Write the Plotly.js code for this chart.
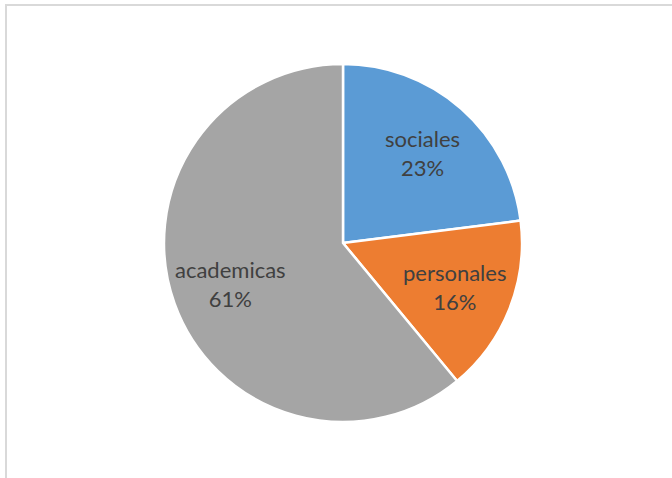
<!DOCTYPE html>
<html>
<head>
<meta charset="utf-8">
<script src="https://cdn.plot.ly/plotly-3.0.1.min.js"></script>
<style>
  html, body { margin: 0; padding: 0; background: #ffffff; overflow: hidden; }
  #frame { position: absolute; left: 5px; top: 4px; width: 720px; height: 520px;
           border-left: 2px solid #d9d9d9; border-top: 2px solid #d9d9d9; }
  #chart { position: absolute; left: 0; top: 0; width: 672px; height: 478px; }
</style>
</head>
<body>
<div id="frame"></div>
<div id="chart"></div>
<script>
const categories = ["sociales", "personales", "academicas"];
const values = [23, 16, 61];
const colors = ["#5B9BD5", "#ED7D31", "#A5A5A5"];

const total = values.reduce((a, b) => a + b, 0);
const labelRadius = 0.67;
const annotations = [];
let cum = 0;
values.forEach((v, i) => {
  const mid = (cum + v / 2) / total * 2 * Math.PI;
  cum += v;
  annotations.push({
    xref: "paper", yref: "paper",
    x: 0.5 + 0.5 * labelRadius * Math.sin(mid),
    y: 0.5 + 0.5 * labelRadius * Math.cos(mid),
    xanchor: "center", yanchor: "middle",
    text: categories[i] + "<br>" + Math.round(v / total * 100) + "%",
    showarrow: false,
    font: { family: "Lato, 'Open Sans', sans-serif", size: 22, color: "#404040" }
  });
});

const data = [{
  type: "pie",
  labels: categories,
  values: values,
  sort: false,
  direction: "clockwise",
  rotation: 0,
  marker: { colors: colors, line: { color: "#ffffff", width: 2.5 } },
  textinfo: "none",
  hoverinfo: "none"
}];

const layout = {
  width: 672, height: 478,
  margin: { l: 164, r: 150, t: 64, b: 56 },
  paper_bgcolor: "rgba(0,0,0,0)",
  plot_bgcolor: "rgba(0,0,0,0)",
  showlegend: false,
  annotations: annotations
};

Plotly.newPlot("chart", data, layout, { displayModeBar: false, staticPlot: true });
</script>
</body>
</html>
